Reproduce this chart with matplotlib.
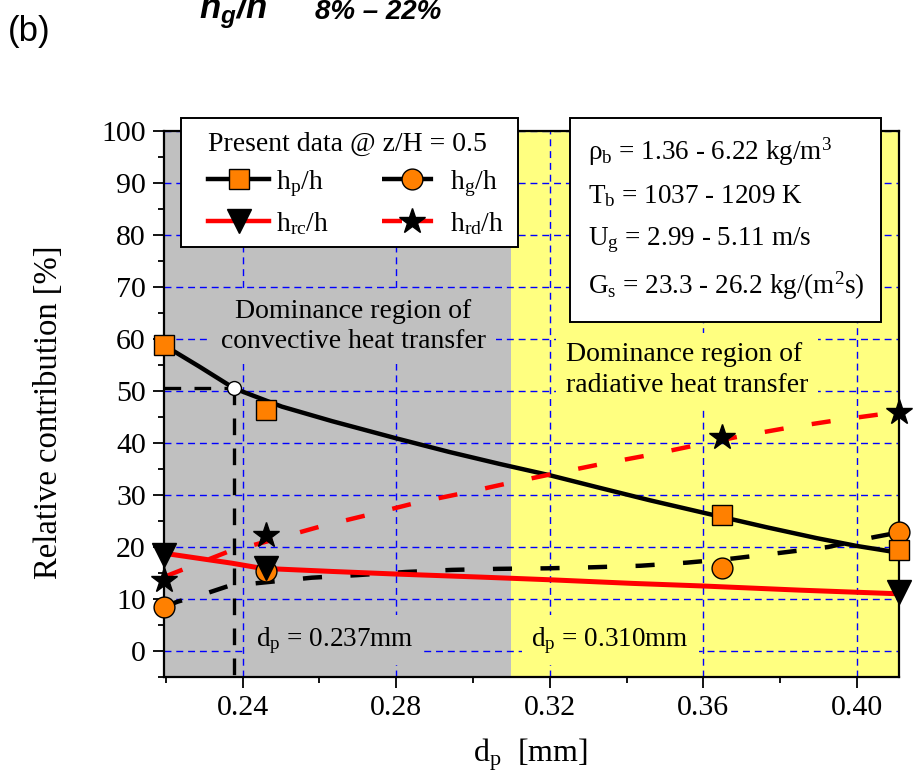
import matplotlib
matplotlib.use('Agg')
import matplotlib.pyplot as plt
from matplotlib.lines import Line2D
from matplotlib.patches import Rectangle
from matplotlib.ticker import MultipleLocator
from matplotlib import font_manager as fm

names = {f.name for f in fm.fontManager.ttflist}
NARROW = 'Liberation Sans Narrow' if 'Liberation Sans Narrow' in names else 'Liberation Sans'

plt.rcParams['font.family'] = ['Liberation Serif', 'DejaVu Serif']
plt.rcParams['mathtext.fontset'] = 'custom'
plt.rcParams['mathtext.rm'] = 'Liberation Serif'
plt.rcParams['mathtext.it'] = 'Liberation Serif:italic'
plt.rcParams['mathtext.bf'] = 'Liberation Serif:bold'
plt.rcParams['mathtext.sf'] = NARROW + ':italic:bold'

# ---------------- data ----------------
dp_meas = [0.2195, 0.246, 0.365, 0.411]
hp_meas = [58.8, 46.3, 26.2, 19.4]
hg_meas = [8.5, 15.3, 15.9, 22.9]
hrd_meas = [13.7, 22.3, 41.2, 46.0]
dp_rc_meas = [0.2195, 0.246, 0.411]
hrc_meas = [18.5, 16.0, 11.4]

# fitted curves
hp_fit_x = [0.2195, 0.2287, 0.2378, 0.2502, 0.2633, 0.28, 0.2937, 0.3068, 0.32,
            0.3329, 0.346, 0.36, 0.3765, 0.3896, 0.40, 0.411]
hp_fit_y = [58.8, 54.7, 50.5, 47.0, 44.2, 40.9, 38.3, 36.0, 33.8,
            31.4, 29.0, 26.6, 23.8, 21.7, 20.2, 18.9]
hg_fit_x = [0.2195, 0.2231, 0.231, 0.2363, 0.2458, 0.258, 0.27, 0.2826, 0.2945,
            0.3065, 0.3192, 0.331, 0.3437, 0.3558, 0.3678, 0.3803, 0.3925, 0.4045, 0.411]
hg_fit_y = [8.5, 9.5, 11.2, 12.5, 13.2, 14.1, 14.6, 15.2, 15.6,
            15.8, 15.9, 16.1, 16.4, 17.0, 17.8, 18.9, 20.0, 21.9, 22.8]
hrc_fit_x = [0.2195, 0.2371, 0.245, 0.2633, 0.28, 0.3025, 0.32, 0.3417, 0.36, 0.3853, 0.411]
hrc_fit_y = [18.8, 16.9, 15.9, 15.3, 14.8, 14.2, 13.7, 13.0, 12.5, 11.7, 11.0]
hrd_fit_x = [0.2197, 0.2362, 0.246, 0.2605, 0.2728, 0.2852, 0.2977, 0.310, 0.3217,
             0.3337, 0.346, 0.3583, 0.3704, 0.3826, 0.395, 0.407, 0.411]
hrd_fit_y = [14.3, 19.1, 21.0, 24.0, 26.2, 28.5, 30.4, 32.4, 34.2,
             36.0, 37.7, 39.6, 41.4, 43.0, 44.4, 45.6, 46.0]

dp_conv = 0.2378      # d_p = 0.237 mm crossing
hp_cross = 50.5
dp_rad = 0.310        # boundary between regions

x_lim = (0.2195, 0.411)
y_lim = (-5, 100)
x_ticks = [0.24, 0.28, 0.32, 0.36, 0.40]
x_ticklabels = ['0.24', '0.28', '0.32', '0.36', '0.40']
y_ticks = list(range(0, 101, 10))

legend_title = 'Present data @ z/H = 0.5'
legend_labels = [r'h$_\mathrm{p}$/h', r'h$_\mathrm{rc}$/h', r'h$_\mathrm{g}$/h', r'h$_\mathrm{rd}$/h']
info_lines = [r'ρ$_\mathrm{b}$ = 1.36 - 6.22 kg/m$^\mathrm{3}$',
              r'T$_\mathrm{b}$ = 1037 - 1209 K',
              r'U$_\mathrm{g}$ = 2.99 - 5.11 m/s',
              r'G$_\mathrm{s}$ = 23.3 - 26.2 kg/(m$^\mathrm{2}$s)']

# ---------------- style ----------------
ORANGE = '#FF8000'
GRAY = '#C0C0C0'
YELLOW = '#FFFF80'
RED = '#FF0000'
LW = 3.2
DASH = (0, (4.3, 6.4))

fig = plt.figure(figsize=(9.13, 7.71), dpi=100)
ax = fig.add_axes([0.1796, 0.1219, 0.8051, 0.7082])

ax.set_xlim(*x_lim)
ax.set_ylim(*y_lim)

ax.axvspan(x_lim[0], dp_rad, color=GRAY, zorder=0, lw=0)
ax.axvspan(dp_rad, x_lim[1], color=YELLOW, zorder=0, lw=0)

ax.set_axisbelow(True)
ax.grid(which='major', color='#0000FF', ls=(0, (5, 3.5)), lw=1.0)

# curves
ax.plot(hp_fit_x, hp_fit_y, color='black', lw=LW, zorder=3)
ax.plot(hg_fit_x, hg_fit_y, color='black', lw=LW, ls=DASH, zorder=3)
ax.plot(hrc_fit_x, hrc_fit_y, color=RED, lw=LW + 0.4, zorder=3)
ax.plot(hrd_fit_x, hrd_fit_y, color=RED, lw=LW, ls=DASH, zorder=3)

# reference dashed lines
ax.plot([x_lim[0], dp_conv], [hp_cross, hp_cross], color='black', lw=2.4,
        ls=(0, (5, 4)), zorder=3)
ax.plot([dp_conv, dp_conv], [hp_cross, y_lim[0]], color='black', lw=2.4,
        ls=(0, (5, 4)), zorder=3)
ax.plot([dp_conv], [hp_cross], marker='o', ms=10, mfc='white', mec='black',
        mew=1.0, zorder=4)

# markers
ax.plot(dp_meas, hg_meas, ls='none', marker='o', ms=15, mfc=ORANGE, mec='black',
        mew=1.0, clip_on=False, zorder=5)
ax.plot(dp_meas, hp_meas, ls='none', marker='s', ms=14, mfc=ORANGE, mec='black',
        mew=1.0, clip_on=False, zorder=6)
ax.plot(dp_rc_meas, hrc_meas, ls='none', marker='v', ms=17, mfc='black', mec='black',
        clip_on=False, zorder=6)
ax.plot(dp_meas, hrd_meas, ls='none', marker='*', ms=19, mfc='black', mec='black',
        clip_on=False, zorder=6)

# axes styling
ax.set_xticks(x_ticks)
ax.set_xticklabels(x_ticklabels)
ax.set_yticks(y_ticks)
ax.xaxis.set_minor_locator(MultipleLocator(0.02))
ax.yaxis.set_minor_locator(MultipleLocator(5))
ax.tick_params(which='major', direction='out', length=8, width=1.3,
               labelsize=21.5, pad=5)
ax.tick_params(which='minor', direction='out', length=4.5, width=1.3)
for s in ax.spines.values():
    s.set_linewidth(1.6)

ax.set_ylabel('Relative contribution [%]', fontsize=23.5)
ax.yaxis.set_label_coords(-0.136, 0.485)
ax.set_xlabel(r'd$_\mathrm{p}$  [mm]', fontsize=23)
ax.xaxis.set_label_coords(0.498, -0.108)

# region texts
ax.text(0.2689, 62.4, 'Dominance region of\nconvective heat transfer', fontsize=20,
        ha='center', va='center', multialignment='center', linespacing=1.3,
        bbox=dict(facecolor=GRAY, edgecolor='none', pad=7), zorder=3)
ax.text(0.3558, 54.0, 'Dominance region of\nradiative heat transfer', fontsize=20,
        ha='center', va='center', multialignment='left', linespacing=1.3,
        bbox=dict(facecolor=YELLOW, edgecolor='none', pad=7), zorder=3)
ax.text(0.2436, 1.0, r'd$_\mathrm{p}$ = 0.237mm', fontsize=19.5, ha='left',
        va='baseline', bbox=dict(facecolor=GRAY, edgecolor='none', pad=7), zorder=3)
ax.text(0.3152, 1.0, r'd$_\mathrm{p}$ = 0.310mm', fontsize=19.5, ha='left',
        va='baseline', bbox=dict(facecolor=YELLOW, edgecolor='none', pad=7), zorder=3)

# legend: frame drawn separately
ax.add_patch(Rectangle(((181 - 164) / 735, 1 - (247 - 131) / 546),
                       (518 - 181) / 735, (247 - 118) / 546, transform=ax.transAxes,
                       facecolor='white', edgecolor='black', lw=1.4,
                       clip_on=False, zorder=9))
handles = [
    Line2D([], [], color='black', lw=LW, marker='s', ms=14, mfc=ORANGE, mec='black'),
    Line2D([], [], color=RED, lw=LW, marker='v', ms=17, mfc='black', mec='black'),
    Line2D([], [], color='black', lw=LW, ls=(0, (4.5, 2.5)), marker='o', ms=15,
           mfc=ORANGE, mec='black'),
    Line2D([], [], color=RED, lw=LW, ls=(0, (4.5, 2.5)), marker='*', ms=19,
           mfc='black', mec='black'),
]
leg = ax.legend(handles, legend_labels, title=legend_title, ncol=2,
                loc='upper left', bbox_to_anchor=((208 - 164) / 735, 0.998),
                fontsize=20, title_fontsize=20, frameon=False,
                handlelength=2.2, handletextpad=0.25, columnspacing=1.9,
                labelspacing=0.4, borderpad=0, borderaxespad=0, alignment='left')
leg.set_zorder(10)

# info box
x0 = (570 - 164) / 735
x1 = (881 - 164) / 735
ytop = 1 + (131 - 118) / 546
ybot = 1 - (322 - 131) / 546
ax.add_patch(Rectangle((x0, ybot), x1 - x0, ytop - ybot, transform=ax.transAxes,
                       facecolor='white', edgecolor='black', lw=1.4,
                       clip_on=False, zorder=10))
for i, line in enumerate(info_lines):
    yc = [152, 196, 240, 286][i]
    ax.text((588 - 164) / 735, 1 - (yc - 131) / 546, line, transform=ax.transAxes,
            fontsize=19.5, ha='left', va='center', zorder=11)

# figure annotations
fig.text(8 / 913, 1 - 31 / 771, '(b)', family=['Liberation Sans', 'DejaVu Sans'],
         fontsize=25, va='center', ha='left')
fig.text(199 / 913, 1 - 19 / 771, r'$\mathsf{h}_\mathsf{g}\mathsf{/h}$',
         fontsize=25, va='baseline', ha='left')
fig.text(315 / 913, 1 - 19 / 771, '8% – 22%', family=[NARROW, 'DejaVu Sans'],
         fontsize=20, fontweight='bold', style='italic', va='baseline', ha='left')

fig.savefig('out.png', dpi=100)
